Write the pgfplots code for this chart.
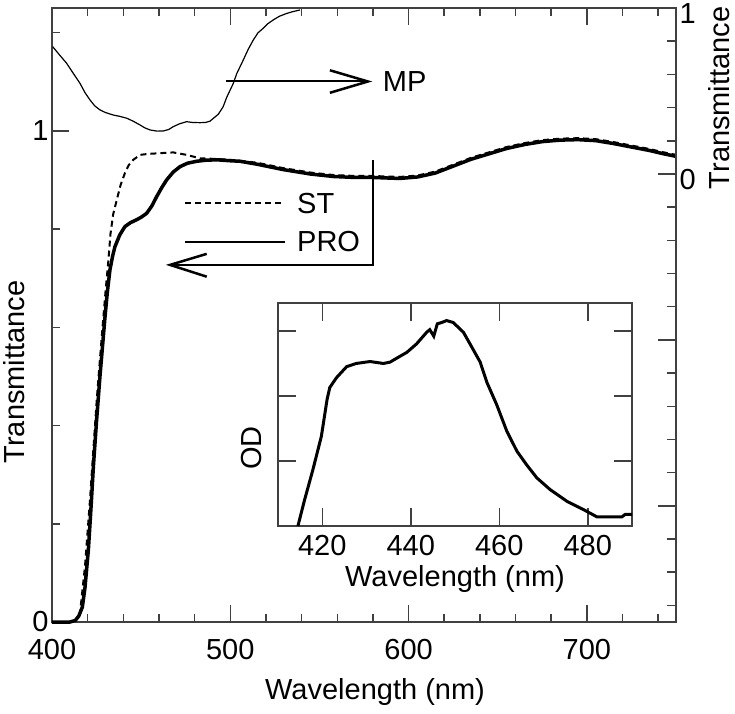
\documentclass[border=0pt]{standalone}
\usepackage{fontspec}
\setmainfont{Liberation Sans}
\usepackage{pgfplots}
\pgfplotsset{compat=1.18}
\newcommand{\fs}{\fontsize{29}{34}\selectfont}
\pgfplotstableread{
x y
400 0
405 0
410 0
413 0.003
415 0.012
417 0.03
418.5 0.07
420.4 0.147
422 0.24
423.2 0.316
425 0.41
426.9 0.5
428.3 0.56
429.7 0.62
431 0.67
432.5 0.717
434 0.745
435.3 0.764
438 0.788
440.9 0.805
444 0.813
447.5 0.819
450 0.824
453.1 0.832
456 0.847
458.7 0.866
461.5 0.884
464.3 0.9
468 0.916
471.8 0.927
476 0.934
481.2 0.938
486 0.940
492.4 0.941
500 0.939
505.4 0.938
515 0.932
529.7 0.921
545 0.912
557.8 0.907
570 0.905
580 0.905
595 0.903
605 0.906
615 0.914
625 0.928
635 0.942
645 0.953
655 0.964
665 0.972
675 0.978
685 0.981
695 0.982
705 0.980
715 0.974
725 0.967
735 0.960
742 0.954
750 0.948
}\pro
\pgfplotstableread{
x y
400 0
410 0
413 0.003
415.7 0.018
418.5 0.113
421.3 0.248
423 0.34
425.1 0.452
427 0.54
428.8 0.62
430.2 0.68
431.6 0.735
432.8 0.79
434.3 0.83
436.3 0.859
438.5 0.89
440.9 0.914
443 0.93
445.6 0.941
449.4 0.951
454 0.953
458.7 0.954
463 0.955
468 0.956
475.5 0.951
483 0.944
490 0.943
500 0.941
515 0.935
529.7 0.924
545 0.915
557.8 0.910
570 0.908
580 0.908
595 0.906
605 0.909
615 0.917
625 0.931
635 0.945
645 0.956
655 0.967
665 0.975
675 0.981
685 0.984
695 0.985
705 0.983
715 0.977
725 0.970
735 0.963
742 0.957
750 0.951
}\st
\pgfplotstableread{
x y
400.4 0.767
404 0.72
408.2 0.667
412 0.605
415.7 0.546
418.5 0.49
421.3 0.446
424 0.41
426.9 0.386
430 0.37
434.4 0.355
438 0.347
441.9 0.336
445.5 0.318
449.4 0.295
452 0.278
455 0.265
459 0.258
462.4 0.259
465.5 0.268
468 0.285
471.5 0.302
475.5 0.315
479 0.31
483 0.309
486 0.31
488.6 0.318
490.5 0.335
493.3 0.36
496 0.405
498 0.462
501.7 0.546
503.6 0.604
507.3 0.687
510 0.75
512.9 0.807
515.5 0.85
518.5 0.878
521 0.905
524.1 0.928
527.5 0.95
531.6 0.967
535 0.978
539.1 0.988
}\mp
\pgfplotstableread{
x y
414.5 0
416 0.4
417.9 0.87
419.8 1.38
421.1 1.95
421.7 2.13
423.2 2.28
425.5 2.45
427.7 2.5
430.8 2.53
433.8 2.5
435.3 2.52
436.8 2.58
439.1 2.67
441.3 2.8
443.6 2.98
444.3 3.02
445.2 2.92
446 3.11
447 3.13
448.1 3.16
449.6 3.13
451.9 2.98
453.4 2.8
455.7 2.52
457.2 2.21
459.4 1.87
461.7 1.46
464 1.15
466.2 0.94
468.5 0.74
471.5 0.56
475.3 0.38
479.1 0.25
482.1 0.14
485.1 0.14
487.7 0.14
488.5 0.18
490 0.18
}\od
\begin{document}
\begin{tikzpicture}
\pgfplotsset{every axis/.append style={
  /pgf/number format/assume math mode=true,
  tick label style={font=\fs, black},
  axis line style={black!75, line width=1.5pt},
  tick style={black!75, line width=1.5pt},
  tick align=inside,
  scale only axis}}
\begin{axis}[width=624pt, height=614pt,
  xmin=400, xmax=750, ymin=0, ymax=1.25,
  major tick length=17pt, minor tick length=8pt,
  xtick={400,500,600,700}, minor xtick={420,440,...,740},
  ytick={0,1}, minor ytick={0.2,0.4,0.6,0.8,1.2},
  ytick pos=left,
  xticklabel style={yshift=-14pt},
  clip=false]
\addplot[black, line width=2pt, dash pattern=on 6pt off 4pt] table {\st};
\addplot[black, line width=3.5pt] table {\pro};
% PRO arrow
\draw[black, line width=2pt] (axis cs:579.9,0.941) -- (axis cs:579.9,0.727) -- (axis cs:466.2,0.727);
\draw[black, line width=2.5pt] (axis cs:486.8,0.7495) -- (axis cs:466.2,0.727) -- (axis cs:486.8,0.703);
% MP arrow
\draw[black, line width=2pt] (axis cs:497.6,1.1004) -- (axis cs:577.2,1.1004);
\draw[black, line width=2.5pt] (axis cs:555.9,1.1232) -- (axis cs:577.2,1.1004) -- (axis cs:555.9,1.0774);
\node[anchor=west, inner sep=0pt, font=\fs] at (axis cs:585.5,1.0998) {MP};
% legend
\draw[black, line width=2pt, dash pattern=on 6pt off 4pt] (axis cs:474.6,0.8527) -- (axis cs:529.6,0.8527);
\node[anchor=west, inner sep=0pt, font=\fs] at (axis cs:537.4,0.8527) {ST};
\draw[black, line width=2pt] (axis cs:474.6,0.7745) -- (axis cs:530.7,0.7745);
\node[anchor=west, inner sep=0pt, font=\fs] at (axis cs:537.4,0.7745) {PRO};
% labels
\node[rotate=90, font=\fs, inner sep=0pt] at (axis cs:378.7,0.509) {Transmittance};
\node[rotate=90, font=\fs, inner sep=0pt] at (axis cs:774.1,1.067) {Transmittance};
\node[font=\fs, inner sep=0pt] at (axis cs:581.2,-0.1426) {Wavelength (nm)};
\end{axis}
\begin{axis}[width=624pt, height=614pt,
  xmin=400, xmax=750, ymin=-2.70, ymax=1.0,
  axis y line*=right, axis x line=none,
  major tick length=18pt, minor tick length=9pt,
  ytick={-2,-1,0,1}, yticklabels={,,0,1},
  yticklabel style={yshift=-6pt},
  minor ytick={-2.6,-2.4,-2.2,-1.8,-1.6,-1.4,-1.2,-0.8,-0.6,-0.4,-0.2,0.2,0.4,0.6,0.8},
  clip=false]
\addplot[black, line width=1.2pt] table {\mp};
\end{axis}
\begin{axis}[at={(226pt,96pt)}, anchor=south west,
  width=354pt, height=223pt,
  xmin=410, xmax=490, ymin=0, ymax=3.43,
  major tick length=18pt,
  xtick={420,440,460,480}, ytick={1,2,3}, yticklabels={},
  xticklabel style={yshift=-6pt},
  axis background/.style={fill=white},
  clip=false]
\addplot[black, line width=3pt] table {\od};
\node[font=\fs, inner sep=0pt] at (axis cs:450,-0.82) {Wavelength (nm)};
\node[rotate=90, font=\fs, inner sep=0pt] at (axis cs:404,1.2) {OD};
\end{axis}
\pgfresetboundingbox
\path[use as bounding box] (-52pt,-91pt) rectangle (683pt,622pt);
\end{tikzpicture}
\end{document}
